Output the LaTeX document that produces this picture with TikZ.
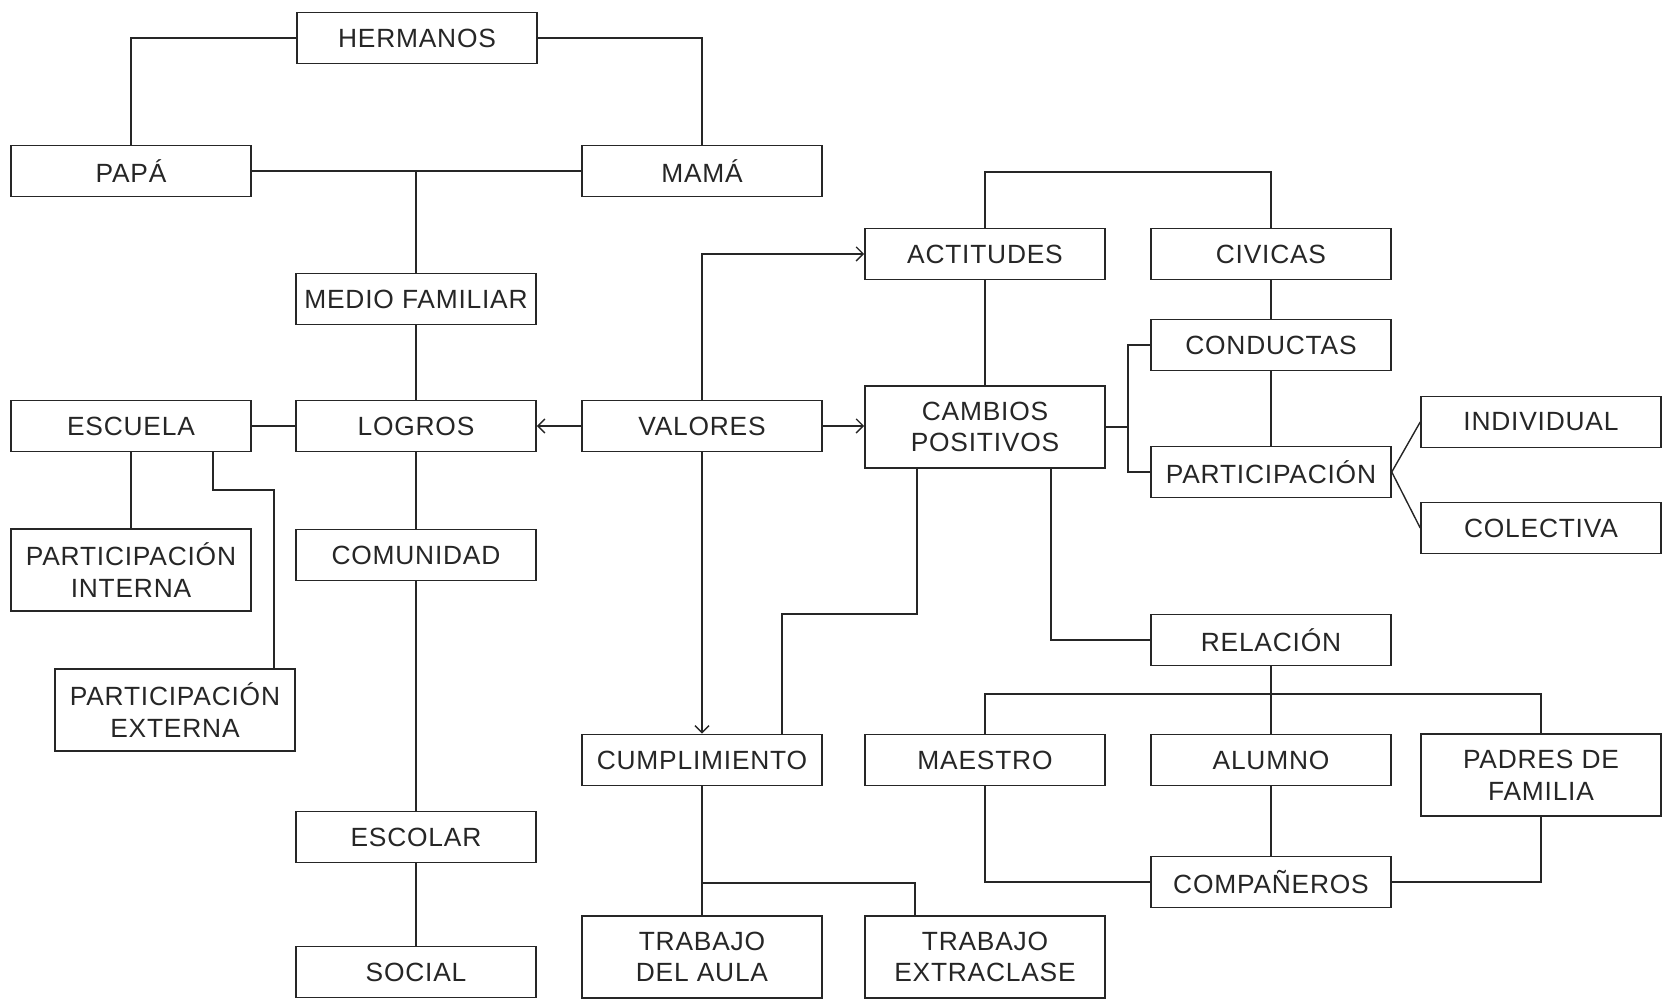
\documentclass[tikz,border=0pt]{standalone}
\usepackage{fontspec}
\setmainfont{Liberation Sans}[LetterSpace=3]
\usepackage{tikz}
\usetikzlibrary{arrows.meta}

\begin{document}
\begin{tikzpicture}[x=0.02cm, y=-0.02cm,
        caja/.style = {draw, line width=0.9pt, minimum width=4.8cm, minimum height=1.02cm, inner sep=2pt},
        doble/.style = {caja, minimum height=1.64cm, align=center},
        linea/.style = {line width=0.8pt},
        flecha/.style = {linea, -{Straight Barb[length=4pt, width=8pt]}},
        font=\fontsize{15}{18}\selectfont, color=black!85]
        \useasboundingbox (0, 0) rectangle (1668, 999);
        % familia
        \node [caja] (hermanos) at (417, 38) {HERMANOS};
        \node [caja] (papa) at (131, 171) {PAPÁ};
        \node [caja] (mama) at (702, 171) {MAMÁ};
        \node [caja] (medio) at (416, 299) {MEDIO FAMILIAR};
        % columna izquierda
        \node [caja] (escuela) at (131, 426) {ESCUELA};
        \node [caja] (logros) at (416, 426) {LOGROS};
        \node [doble] (interna) at (131, 570) {PARTICIPACIÓN\\INTERNA};
        \node [doble] (externa) at (175, 710) {PARTICIPACIÓN\\EXTERNA};
        \node [caja] (comunidad) at (416, 555) {COMUNIDAD};
        \node [caja] (escolar) at (416, 837) {ESCOLAR};
        \node [caja] (social) at (416, 972) {SOCIAL};
        % valores
        \node [caja] (valores) at (702, 426) {VALORES};
        \node [caja] (cumpl) at (702, 760) {CUMPLIMIENTO};
        \node [doble] (aula) at (702, 957) {TRABAJO\\DEL AULA};
        \node [doble] (extra) at (985, 957) {TRABAJO\\EXTRACLASE};
        % columna derecha
        \node [caja] (actitudes) at (985, 254) {ACTITUDES};
        \node [caja] (civicas) at (1271, 254) {CIVICAS};
        \node [caja] (conductas) at (1271, 345) {CONDUCTAS};
        \node [doble] (cambios) at (985, 427) {CAMBIOS\\POSITIVOS};
        \node [caja] (particip) at (1271, 472) {PARTICIPACIÓN};
        \node [caja] (individual) at (1541, 422) {INDIVIDUAL};
        \node [caja] (colectiva) at (1541, 528) {COLECTIVA};
        \node [caja] (relacion) at (1271, 640) {RELACIÓN};
        \node [caja] (maestro) at (985, 760) {MAESTRO};
        \node [caja] (alumno) at (1271, 760) {ALUMNO};
        \node [doble] (padres) at (1541, 775) {PADRES DE\\FAMILIA};
        \node [caja] (compa) at (1271, 882) {COMPAÑEROS};
        % puntos de quiebre
        \coordinate (arriba) at (985, 172);
        \coordinate (llave) at (1128, 427);
        \coordinate (b1) at (917, 614);
        \coordinate (b2) at (782, 614);
        \coordinate (b3) at (1051, 640);
        \coordinate (barra) at (1271, 694);
        \coordinate (b4) at (702, 883);
        \coordinate (b5) at (213, 490);
        \coordinate (b6) at (274, 490);
        \coordinate (b7) at (915, 883);
        % conectores
        \draw [linea] (hermanos.west) -| (papa.north);
        \draw [linea] (hermanos.east) -| (mama.north);
        \draw [linea] (papa) -- (mama);
        \draw [linea] (medio.north) -- (medio.north |- papa.east);
        \draw [linea] (medio) -- (logros);
        \draw [linea] (escuela) -- (logros);
        \draw [linea] (escuela) -- (interna);
        \draw [linea] (escuela.south -| b5) -- (b5) -- (b6) -- (externa.north -| b6);
        \draw [linea] (logros) -- (comunidad);
        \draw [linea] (comunidad) -- (escolar);
        \draw [linea] (escolar) -- (social);
        \draw [flecha] (valores) -- (logros);
        \draw [flecha] (valores.east) -- (valores.east -| cambios.west);
        \draw [flecha] (valores.north) |- (actitudes.west);
        \draw [flecha] (valores) -- (cumpl);
        \draw [linea] (actitudes.north) -- (arriba) -| (civicas.north);
        \draw [linea] (actitudes) -- (cambios);
        \draw [linea] (civicas) -- (conductas);
        \draw [linea] (conductas) -- (particip);
        \draw [linea] (cambios.east) -- (llave);
        \draw [linea] (conductas.west) -| (llave) |- (particip.west);
        \draw [linea] (particip.east) -- (individual.west);
        \draw [linea] (particip.east) -- (colectiva.west);
        \draw [linea] (cambios.south -| b1) -- (b1) -- (b2) -- (cumpl.north -| b2);
        \draw [linea] (cambios.south -| b3) |- (relacion.west);
        \draw [linea] (relacion) -- (alumno);
        \draw [linea] (maestro.north) |- (barra) -| (padres.north);
        \draw [linea] (alumno) -- (compa);
        \draw [linea] (maestro.south) |- (compa.west);
        \draw [linea] (padres.south) |- (compa.east);
        \draw [linea] (cumpl) -- (aula);
        \draw [linea] (b4) -- (b7) -- (extra.north -| b7);
\end{tikzpicture}
\end{document}
